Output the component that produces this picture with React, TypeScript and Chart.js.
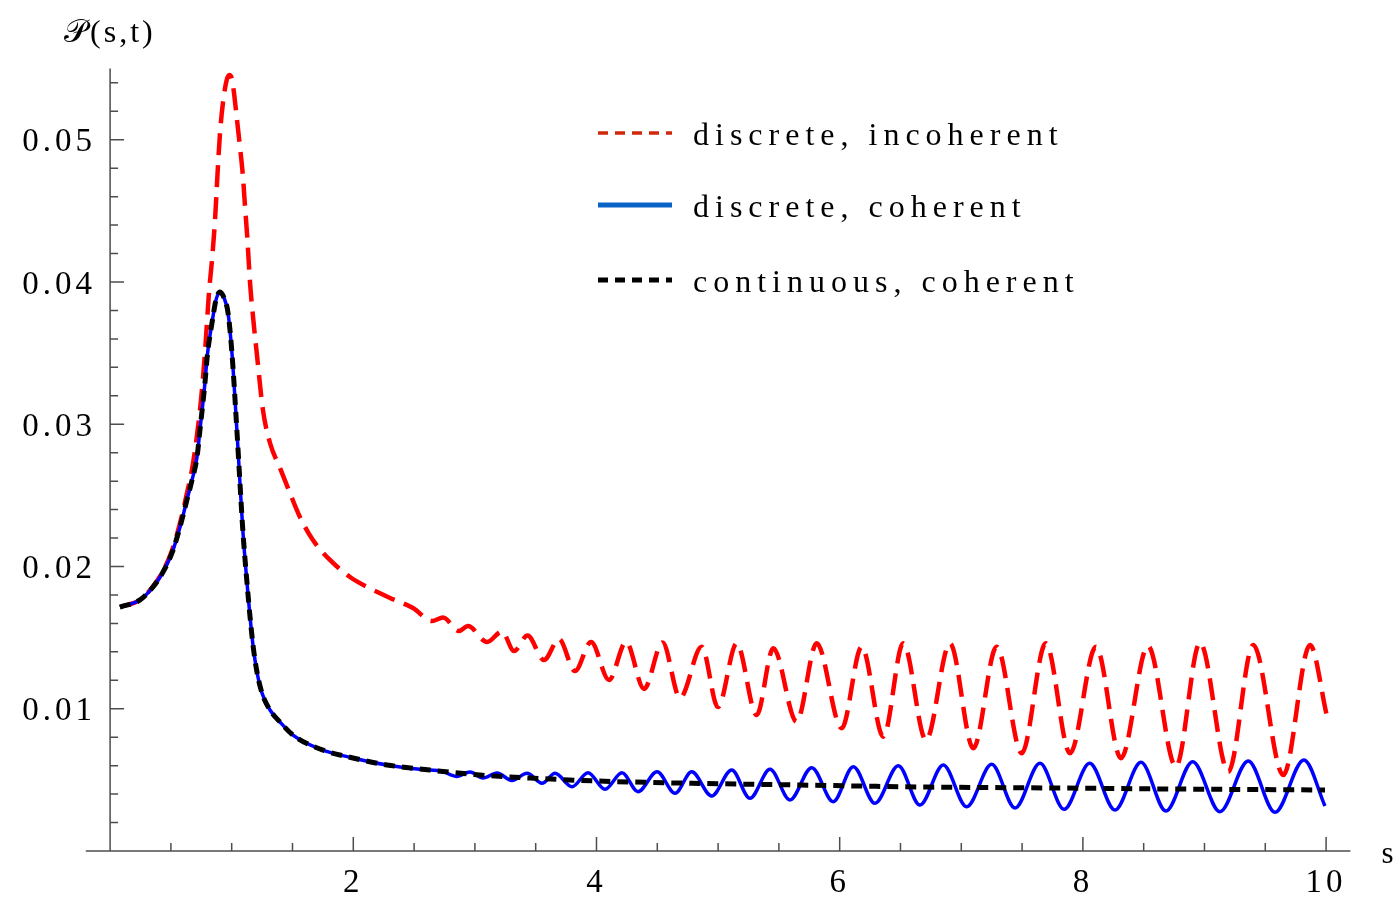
import React, { useEffect, useRef } from "react";
import { Chart, registerables } from "chart.js";

Chart.register(...registerables);

const serif = '"Liberation Serif", "Times New Roman", serif';

// Axis layout values
const xRange = [0, 10.2];
const yRange = [0, 0.055];
const xAxisLeftEnd = -0.2;
const xTickValues = [2, 4, 6, 8, 10];
const yTickValues = [0.01, 0.02, 0.03, 0.04, 0.05];
const xMinorStep = 0.5;
const yMinorStep = 0.002;
const xMinorLast = 10;
const yMinorLast = 0.054;

const axisTitleY = "\u{1D4AB}(s,t)";
const axisTitleX = "s";

const seriesLabels = ["discrete, incoherent", "discrete, coherent", "continuous, coherent"];

// discrete, incoherent
const incoherentS = [
  0.081, 0.246, 0.353, 0.435, 0.509, 0.575, 0.632, 0.674, 0.715, 0.748,
  0.78, 0.813, 0.838, 0.863, 0.882, 0.904, 0.931, 0.959, 0.98, 1.002,
  1.019, 1.041, 1.068, 1.09, 1.11, 1.128, 1.151, 1.178, 1.206, 1.257,
  1.315, 1.397, 1.479, 1.561, 1.668, 1.808, 1.973, 2.113, 2.302, 2.491,
  2.647, 2.738, 2.869, 2.943, 3.1, 3.223, 3.322, 3.433, 3.568, 3.692,
  3.823, 3.955, 4.103, 4.243, 4.391, 4.543, 4.687, 4.865, 4.999, 5.153,
  5.317, 5.454, 5.646, 5.811, 6.016, 6.181, 6.359, 6.523, 6.71, 6.907,
  7.099, 7.291, 7.497, 7.695, 7.894, 8.108, 8.313, 8.535, 8.765, 8.963,
  9.196, 9.401, 9.648, 9.868, 10.005,
];
const incoherentP = [
  0.01715, 0.01765, 0.0186, 0.01968, 0.02112, 0.02305, 0.02515, 0.02685, 0.02925, 0.03175,
  0.03501, 0.03923, 0.04155, 0.04436, 0.04738, 0.05048, 0.0528, 0.0542, 0.05455, 0.05427,
  0.05329, 0.0516, 0.04949, 0.04766, 0.04527, 0.04316, 0.03993, 0.03733, 0.03501, 0.031,
  0.02868, 0.02693, 0.02517, 0.02348, 0.02186, 0.02046, 0.01926, 0.01856, 0.01779, 0.01708,
  0.01617, 0.01641, 0.01547, 0.01582, 0.01469, 0.01543, 0.01406, 0.01515, 0.01343, 0.0149,
  0.01265, 0.01469, 0.01202, 0.01469, 0.01139, 0.01466, 0.01076, 0.01436, 0.01012, 0.0146,
  0.00956, 0.01425, 0.00909, 0.0146, 0.00863, 0.01436, 0.00804, 0.0146, 0.0078, 0.0146,
  0.00722, 0.01436, 0.00687, 0.0146, 0.00687, 0.01436, 0.00652, 0.01441, 0.00593, 0.01464,
  0.00557, 0.01448, 0.00534, 0.01448, 0.00956,
];

// discrete, coherent
const coherentS = [
  0.081, 0.246, 0.353, 0.435, 0.509, 0.575, 0.632, 0.674, 0.715, 0.739,
  0.78, 0.8, 0.838, 0.871, 0.904, 0.937, 0.97, 1.002, 1.044, 1.068,
  1.093, 1.126, 1.151, 1.175, 1.208, 1.249, 1.315, 1.397, 1.504, 1.726,
  1.997, 2.277, 2.631,
  2.713, 2.853, 2.96, 3.067, 3.182, 3.305, 3.429, 3.552, 3.659, 3.799,
  3.93, 4.07, 4.21, 4.341, 4.498, 4.646, 4.783, 4.947, 5.112, 5.262,
  5.427, 5.591, 5.77, 5.947, 6.112, 6.29, 6.482, 6.66, 6.852, 7.044,
  7.25, 7.442, 7.647, 7.845, 8.056, 8.264, 8.478, 8.683, 8.903, 9.127,
  9.36, 9.58, 9.818, 9.991,
];
const coherentP = [
  0.01715, 0.01765, 0.01856, 0.01961, 0.02095, 0.02278, 0.02468, 0.02608, 0.0277, 0.0296,
  0.0329, 0.03487, 0.03712, 0.03874, 0.0393, 0.03888, 0.03782, 0.03501, 0.02939, 0.02587,
  0.02236, 0.01884, 0.01645, 0.01448, 0.01258, 0.01111, 0.00991, 0.00907, 0.00815, 0.00717,
  0.00654, 0.00605, 0.00569,
  0.00565, 0.00524, 0.00555, 0.00513, 0.00548, 0.00496, 0.00546, 0.00476, 0.00546, 0.00452,
  0.0055, 0.00434, 0.0055, 0.00417, 0.00557, 0.00406, 0.00557, 0.00387, 0.00569, 0.0037,
  0.00574, 0.00359, 0.00586, 0.00347, 0.00593, 0.00335, 0.006, 0.00323, 0.00605, 0.00311,
  0.00609, 0.00302, 0.00617, 0.00293, 0.00617, 0.00288, 0.00624, 0.00281, 0.00628, 0.00276,
  0.00633, 0.00272, 0.0064, 0.00316,
];

// continuous, coherent
const continuousS = [
  0.081, 0.246, 0.353, 0.435, 0.509, 0.575, 0.632, 0.674, 0.715, 0.739,
  0.78, 0.8, 0.838, 0.871, 0.904, 0.937, 0.97, 1.002, 1.044, 1.068,
  1.093, 1.126, 1.151, 1.175, 1.208, 1.249, 1.315, 1.397, 1.504, 1.726,
  1.997, 2.277, 2.631, 3.042, 3.453, 4.004, 4.662, 5.673, 6.66, 7.729,
  8.716, 9.991,
];
const continuousP = [
  0.01715, 0.01765, 0.01856, 0.01961, 0.02095, 0.02278, 0.02468, 0.02608, 0.0277, 0.0296,
  0.0329, 0.03487, 0.03712, 0.03874, 0.0393, 0.03888, 0.03782, 0.03501, 0.02939, 0.02587,
  0.02236, 0.01884, 0.01645, 0.01448, 0.01258, 0.01111, 0.00991, 0.00907, 0.00815, 0.00717,
  0.00654, 0.00605, 0.00569, 0.00534, 0.00513, 0.00492, 0.00478, 0.00464, 0.0045, 0.00443,
  0.00436, 0.00429,
];

const lineColors = ["#ff0000", "#0000ff", "#000000"];
const legendColors = ["#d0280a", "#0a64c8", "#000000"];

const toPoints = (s: number[], p: number[]) => s.map((x, i) => ({ x, y: p[i] }));

const isMultiple = (v: number, step: number) => Math.abs(v / step - Math.round(v / step)) < 1e-6;

const framePlugin = {
  id: "frame",
  beforeDraw(chart: any) {
    chart.ctx.letterSpacing = "4px";
  },
  beforeDatasetsDraw(chart: any) {
    const { ctx } = chart;
    const xs = chart.scales.x;
    const ys = chart.scales.y;
    const x0 = xs.getPixelForValue(0);
    const y0 = ys.getPixelForValue(0);
    ctx.save();
    ctx.letterSpacing = "0px";
    ctx.strokeStyle = "#4d4d4d";
    ctx.lineWidth = 1.5;
    ctx.beginPath();
    ctx.moveTo(xs.getPixelForValue(xAxisLeftEnd), y0);
    ctx.lineTo(xs.getPixelForValue(xRange[1]), y0);
    ctx.moveTo(x0, y0);
    ctx.lineTo(x0, ys.getPixelForValue(yRange[1]));
    for (let k = 1; k * xMinorStep <= xMinorLast + 1e-9; k++) {
      const v = k * xMinorStep;
      const len = isMultiple(v, 2) ? 14 : 8;
      const px = xs.getPixelForValue(v);
      ctx.moveTo(px, y0);
      ctx.lineTo(px, y0 - len);
    }
    for (let k = 1; k * yMinorStep <= yMinorLast + 1e-9; k++) {
      const v = k * yMinorStep;
      const len = isMultiple(v, 0.01) ? 14 : 8;
      const py = ys.getPixelForValue(v);
      ctx.moveTo(x0, py);
      ctx.lineTo(x0 + len, py);
    }
    ctx.stroke();
    ctx.restore();
  },
  afterDraw(chart: any) {
    const { ctx } = chart;
    const xs = chart.scales.x;
    const ys = chart.scales.y;
    ctx.save();
    ctx.fillStyle = "#000";
    ctx.textAlign = "left";
    ctx.textBaseline = "alphabetic";

    // axis titles
    ctx.font = `32px ${serif}`;
    ctx.letterSpacing = "3px";
    ctx.fillText(axisTitleY, xs.left - 46, ys.top - 27);
    ctx.letterSpacing = "0px";
    ctx.font = `31px ${serif}`;
    ctx.fillText(axisTitleX, xs.right + 31, ys.bottom + 12);

    // legend
    const lineStart = 598;
    const lineEnd = 672;
    const baselines = [145, 217, 292];
    const legendDash = [[10, 7], [], [10, 7]];
    const legendWidth = [3.5, 5, 5];
    ctx.font = `32px ${serif}`;
    ctx.letterSpacing = "6px";
    seriesLabels.forEach((label, i) => {
      const base = baselines[i];
      const ly = base - 12;
      ctx.save();
      ctx.strokeStyle = legendColors[i];
      ctx.lineWidth = legendWidth[i];
      ctx.setLineDash(legendDash[i]);
      ctx.beginPath();
      ctx.moveTo(lineStart, ly);
      ctx.lineTo(lineEnd, ly);
      ctx.stroke();
      ctx.restore();
      ctx.fillText(label, 693, base);
    });
    ctx.restore();
  },
};

export default function App() {
  const canvasRef = useRef<HTMLCanvasElement | null>(null);

  useEffect(() => {
    const canvas = canvasRef.current;
    if (!canvas) return;
    const chart = new Chart(canvas, {
      type: "line",
      data: {
        datasets: [
          {
            label: seriesLabels[2],
            data: toPoints(continuousS, continuousP),
            borderColor: lineColors[2],
            borderWidth: 5,
            borderDash: [11, 7],
            order: 0,
          },
          {
            label: seriesLabels[1],
            data: toPoints(coherentS, coherentP),
            borderColor: lineColors[1],
            borderWidth: 3.5,
            order: 1,
          },
          {
            label: seriesLabels[0],
            data: toPoints(incoherentS, incoherentP),
            borderColor: lineColors[0],
            borderWidth: 4.5,
            borderDash: [22, 10],
            order: 2,
          },
        ],
      },
      options: {
        animation: false,
        responsive: true,
        maintainAspectRatio: false,
        layout: { padding: { left: 10.1, right: 49.6, top: 68.6, bottom: 0 } },
        elements: {
          point: { radius: 0, hoverRadius: 0 },
          line: { cubicInterpolationMode: "monotone", fill: false, borderCapStyle: "butt" },
        },
        plugins: {
          legend: { display: false },
          tooltip: { enabled: false },
        },
        scales: {
          x: {
            type: "linear",
            min: xRange[0],
            max: xRange[1],
            grid: { display: false, drawTicks: false },
            border: { display: false },
            afterBuildTicks: (scale: any) => {
              scale.ticks = xTickValues.map((v) => ({ value: v }));
            },
            afterFit: (scale: any) => {
              scale.height = 50;
            },
            ticks: {
              color: "#000",
              font: { family: serif, size: 33 },
              padding: 13,
              maxRotation: 0,
              autoSkip: false,
              callback: (v: any) => String(v),
            },
          },
          y: {
            type: "linear",
            min: yRange[0],
            max: yRange[1],
            grid: { display: false, drawTicks: false },
            border: { display: false },
            afterBuildTicks: (scale: any) => {
              scale.ticks = yTickValues.map((v) => ({ value: v }));
            },
            afterFit: (scale: any) => {
              scale.width = 100;
            },
            ticks: {
              color: "#000",
              font: { family: serif, size: 33 },
              padding: 14,
              labelOffset: 3,
              autoSkip: false,
              callback: (v: any) => Number(v).toFixed(2),
            },
          },
        },
      },
      plugins: [framePlugin],
    } as any);
    return () => chart.destroy();
  }, []);

  return (
    <div style={{ position: "fixed", left: 0, top: 0, width: 1400, height: 901, background: "#fff" }}>
      <canvas ref={canvasRef} />
    </div>
  );
}
